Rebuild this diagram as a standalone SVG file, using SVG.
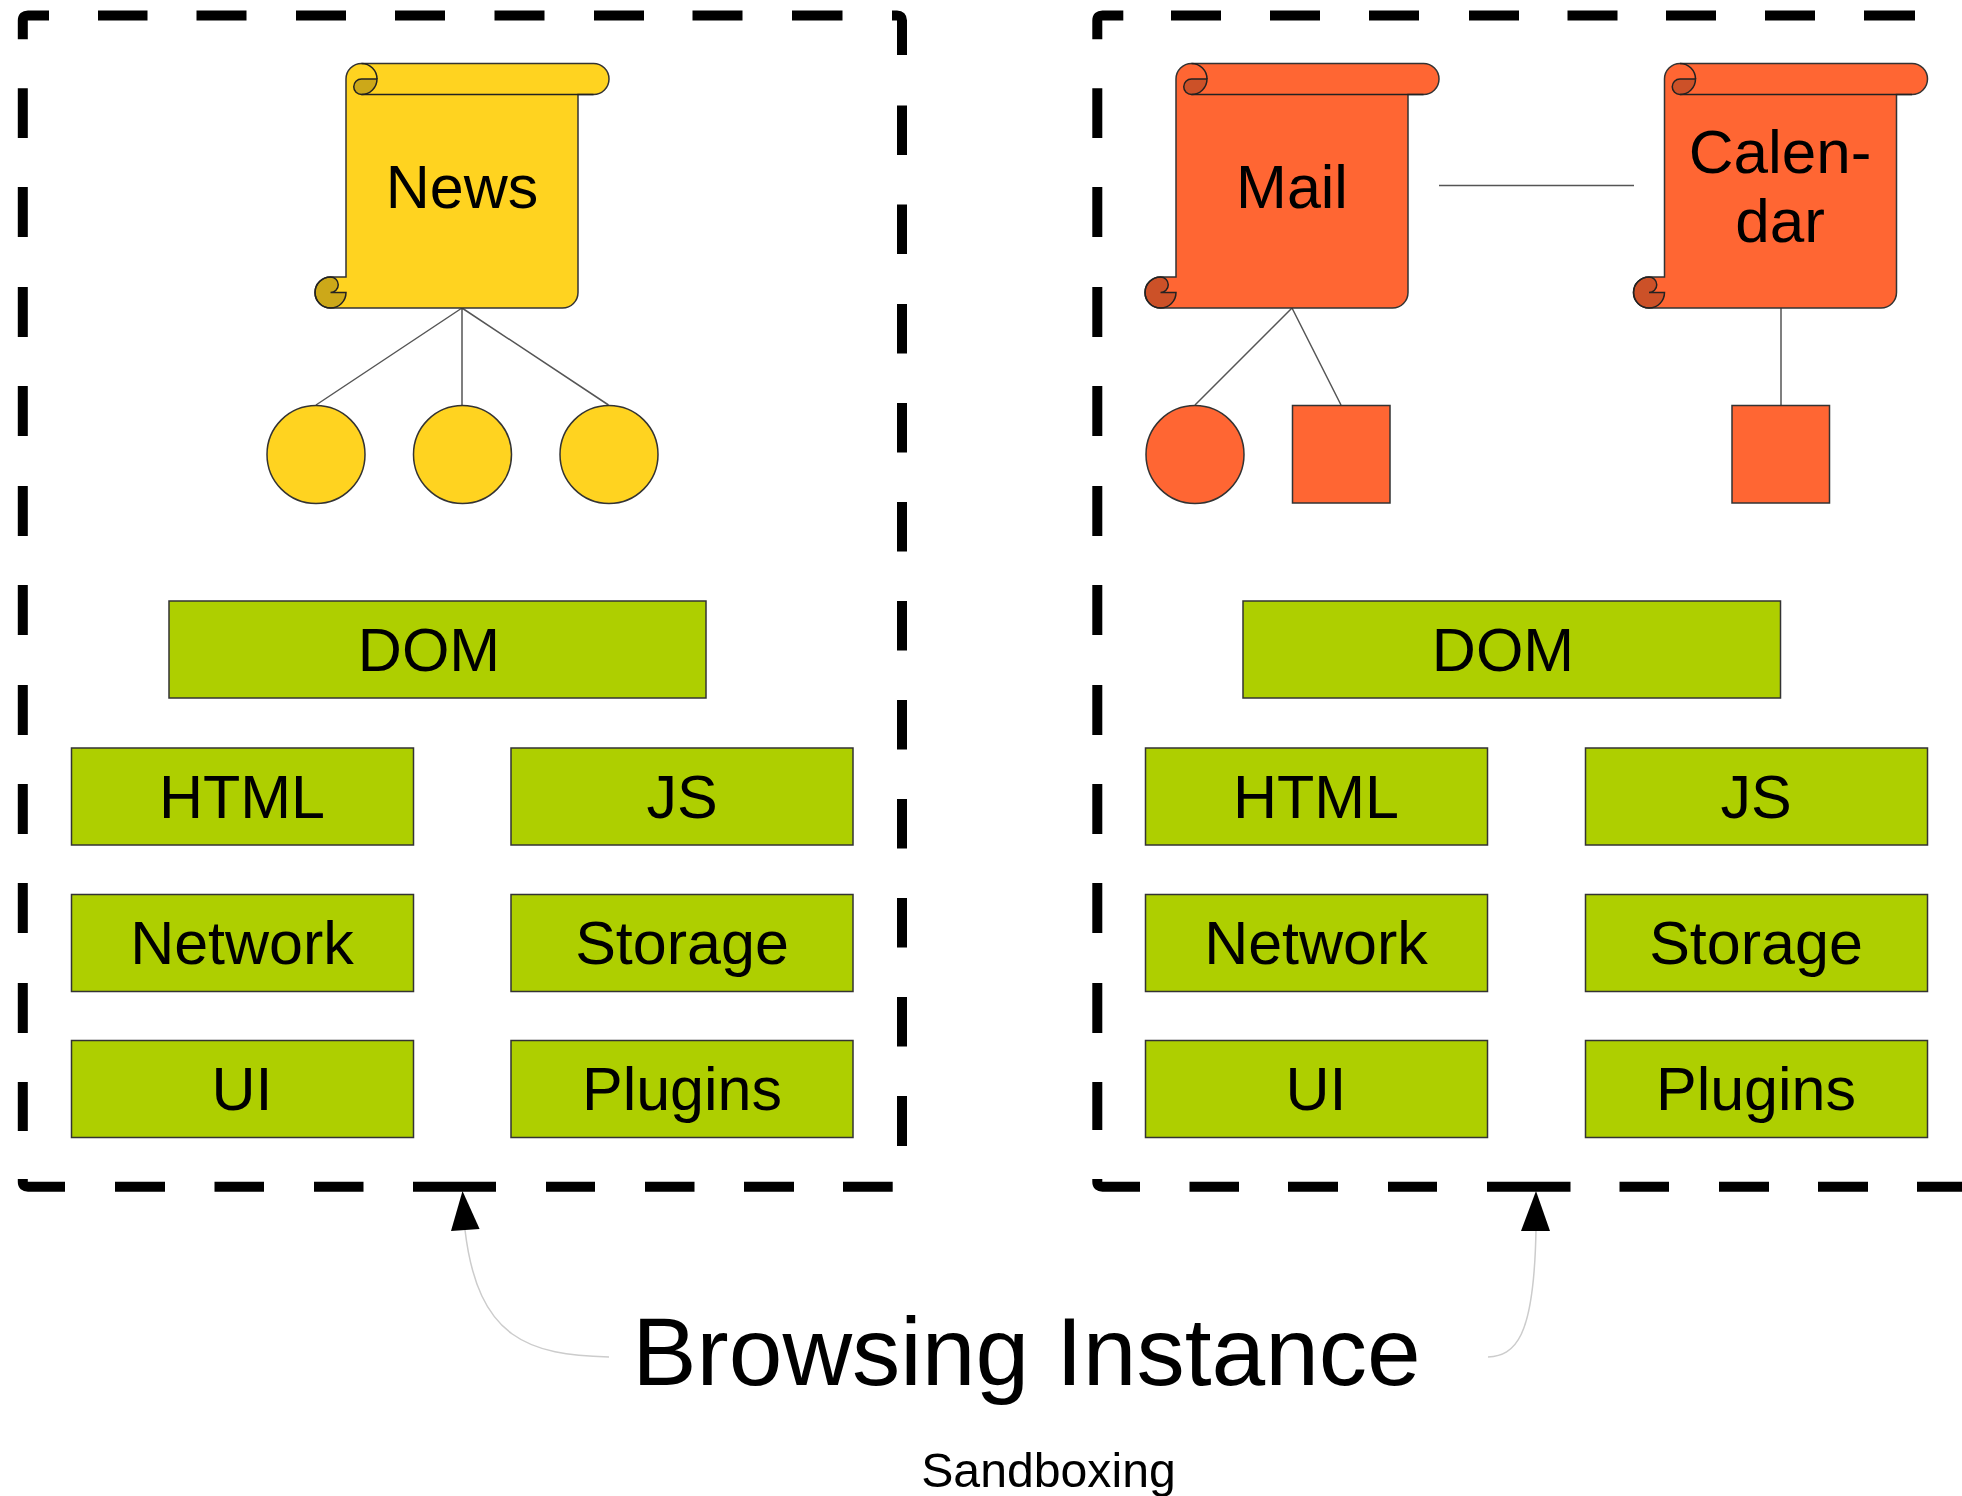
<svg xmlns="http://www.w3.org/2000/svg" width="1962" height="1496" viewBox="0 0 1962 1496">
<style>
text{font-family:"Liberation Sans",Arial,sans-serif;fill:#000;text-anchor:middle}
.lbl{font-size:61px}
.api{fill:#aecf00;stroke:#333;stroke-width:1.5}
.yel{fill:#ffd320;stroke:#333;stroke-width:1.5}
.org{fill:#ff6633;stroke:#333;stroke-width:1.5}
.dash{fill:none;stroke:#000;stroke-width:10}
.thin{fill:none;stroke:#555;stroke-width:1.5}
.lead{fill:none;stroke:#ccc;stroke-width:1.5}
.head{fill:#000}
.curl{fill:#000;fill-opacity:.2;stroke:#222;stroke-width:1.5}
.det{fill:none;stroke:#222;stroke-width:1.5}
</style>
<defs>
<g id="scroll-detail">
<path class="curl" d="M15.5 31A7.75 7.75 0 0 1 15.5 15.5H31A15.5 15.5 0 0 1 15.5 31Z"/>
<path class="det" d="M15.5 0A15.5 15.5 0 0 1 31 15.5M15.5 31H247.5"/>
<path class="curl" d="M-15.5 213.5A15.5 15.5 0 0 0 -15.5 244.5A15.5 15.5 0 0 0 0 229H-15.5A7.75 7.75 0 0 0 -15.5 213.5Z"/>
</g>
<path id="scroll-shape" d="M15.5 0H247.5A15.5 15.5 0 0 1 247.5 31H232V229A15.5 15.5 0 0 1 216.5 244.5H-15.5A15.5 15.5 0 0 1 -15.5 213.5H0V15.5A15.5 15.5 0 0 1 15.5 0Z"/>
</defs>

<g id="connectors">
<path class="thin" d="M462 308L316 405M462 308V405M462 308L608.500 405"/>
<path class="thin" d="M1292 308L1195 405M1292 308L1341 405M1439 185.500H1634M1781 308V405"/>
<path class="lead" d="M609 1357C530 1355 478 1340 465 1230"/>
<path class="lead" d="M1488 1357C1515 1355 1534 1340 1536 1230"/>
<polygon class="head" points="462.500,1191 451,1231 479.600,1229"/>
<polygon class="head" points="1536,1191 1521,1231 1550,1231"/>
</g>

<g id="sandbox-left">
<path class="dash" d="M22.800 39.300V20.500Q22.800 15.400 28 15.400H49M98 15.400H147.500M196.500 15.400H246.500M296 15.400H346M395 15.400H445M494.500 15.400H544.500M594 15.400H644M692.500 15.400H742.500M792 15.400H842.500M892 15.400H897Q902 15.400 902 20.500V55"/>
<path class="dash" d="M902 105.500V155M902 204.500V254M902 304V353.500M902 403V452.500M902 502V551.500M902 601V650.500M902 700V749.500M902 799V848.500M902 898V947.500M902 997V1046.500M902 1096V1146"/>
<path class="dash" d="M22.800 88.300V138M22.800 187V237M22.800 287V337M22.800 386V436M22.800 486V536M22.800 585V635M22.800 685V735M22.800 784V834M22.800 883V933M22.800 983V1033M22.800 1082V1131"/>
<path class="dash" d="M22.800 1179V1182Q22.800 1186.700 28 1186.700H65M115 1186.700H165M214.500 1186.700H264M314 1186.700H363.500M413 1186.700H496M546 1186.700H595M645 1186.700H694.500M744 1186.700H794M843 1186.700H892.700"/>
</g>
<g id="sandbox-right">
<path class="dash" d="M1097.300 39.300V20.500Q1097.300 15.400 1102.500 15.400H1123.300M1171 15.400H1221M1270 15.400H1320M1369 15.400H1419M1469 15.400H1519M1567.500 15.400H1617.500M1666 15.400H1716M1765 15.400H1815M1864 15.400H1915"/>
<path class="dash" d="M1097.300 88.300V138M1097.300 187V237M1097.300 287V337M1097.300 386V436M1097.300 486V536M1097.300 585V635M1097.300 685V735M1097.300 784V834M1097.300 883V933M1097.300 983V1033M1097.300 1082V1130"/>
<path class="dash" d="M1097.300 1179V1182Q1097.300 1186.700 1102.500 1186.700H1140M1189.500 1186.700H1239M1288 1186.700H1338M1388 1186.700H1437M1487 1186.700H1570.500M1619.500 1186.700H1669M1719 1186.700H1769M1818 1186.700H1868M1917 1186.700H1962"/>
</g>

<g id="node-news" transform="translate(346 63.500)">
<use href="#scroll-shape" class="yel"/><use href="#scroll-detail"/>
<text class="lbl" x="116" y="144">News</text>
</g>
<g id="node-mail" transform="translate(1176 63.500)">
<use href="#scroll-shape" class="org"/><use href="#scroll-detail"/>
<text class="lbl" x="116" y="144">Mail</text>
</g>
<g id="node-calendar" transform="translate(1664.500 63.500)">
<use href="#scroll-shape" class="org"/><use href="#scroll-detail"/>
<text class="lbl" x="115.500" y="109.200" font-size="62" style="font-size:62px">Calen-</text>
<text class="lbl" x="115.500" y="178.200" style="font-size:62px">dar</text>
</g>

<g id="node-circle-1"><circle class="yel" cx="316" cy="454.500" r="49"/></g>
<g id="node-circle-2"><circle class="yel" cx="462.500" cy="454.500" r="49"/></g>
<g id="node-circle-3"><circle class="yel" cx="609" cy="454.500" r="49"/></g>
<g id="node-circle-4"><circle class="org" cx="1195" cy="454.500" r="49"/></g>
<g id="node-square-1"><rect class="org" x="1292.500" y="405.500" width="97.500" height="97.500"/></g>
<g id="node-square-2"><rect class="org" x="1732" y="405.500" width="97.500" height="97.500"/></g>

<g id="node-dom-l"><rect class="api" x="169" y="601" width="537" height="97"/><text class="lbl" x="429" y="670.500">DOM</text></g>
<g id="node-html-l"><rect class="api" x="71.500" y="748" width="342" height="97"/><text class="lbl" x="242" y="817.500">HTML</text></g>
<g id="node-js-l"><rect class="api" x="511" y="748" width="342" height="97"/><text class="lbl" x="682" y="817.500">JS</text></g>
<g id="node-network-l"><rect class="api" x="71.500" y="894.500" width="342" height="97"/><text class="lbl" x="242" y="964">Network</text></g>
<g id="node-storage-l"><rect class="api" x="511" y="894.500" width="342" height="97"/><text class="lbl" x="682" y="964">Storage</text></g>
<g id="node-ui-l"><rect class="api" x="71.500" y="1040.500" width="342" height="97"/><text class="lbl" x="242" y="1110">UI</text></g>
<g id="node-plugins-l"><rect class="api" x="511" y="1040.500" width="342" height="97"/><text class="lbl" x="682" y="1110">Plugins</text></g>

<g id="node-dom-r"><rect class="api" x="1243" y="601" width="537.500" height="97"/><text class="lbl" x="1503" y="670.500">DOM</text></g>
<g id="node-html-r"><rect class="api" x="1145.500" y="748" width="342" height="97"/><text class="lbl" x="1316" y="817.500">HTML</text></g>
<g id="node-js-r"><rect class="api" x="1585.500" y="748" width="342" height="97"/><text class="lbl" x="1756" y="817.500">JS</text></g>
<g id="node-network-r"><rect class="api" x="1145.500" y="894.500" width="342" height="97"/><text class="lbl" x="1316" y="964">Network</text></g>
<g id="node-storage-r"><rect class="api" x="1585.500" y="894.500" width="342" height="97"/><text class="lbl" x="1756" y="964">Storage</text></g>
<g id="node-ui-r"><rect class="api" x="1145.500" y="1040.500" width="342" height="97"/><text class="lbl" x="1316" y="1110">UI</text></g>
<g id="node-plugins-r"><rect class="api" x="1585.500" y="1040.500" width="342" height="97"/><text class="lbl" x="1756" y="1110">Plugins</text></g>

<g id="label-browsing"><text x="1026.500" y="1385" font-size="96.500">Browsing Instance</text></g>
<g id="label-sandboxing"><text x="1048.500" y="1487" font-size="48.200">Sandboxing</text></g>
</svg>
